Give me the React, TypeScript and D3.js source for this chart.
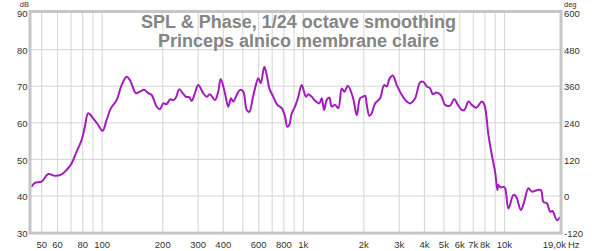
import React from "react";
import * as d3 from "d3";

const freqs = [44.5, 46.3, 49.9, 53.9, 58.2, 62.8, 66.5, 70.4, 74.6, 79.0, 82.0, 85.2, 90.2, 95.5, 100.5, 105.2, 110.5, 117.9, 124.9, 132.2, 137.3, 147.2, 154.0, 161.8, 169.4, 176.1, 186.5, 193.7, 201.2, 209.1, 217.2, 225.5, 232.7, 241.6, 251.2, 260.9, 270.9, 278.5, 289.2, 300.3, 318.0, 330.6, 343.4, 363.6, 377.6, 388.2, 407.7, 423.5, 436.8, 448.5, 466.3, 484.3, 502.9, 522.9, 538.7, 560.2, 575.1, 597.2, 614.0, 639.7, 657.5, 677.4, 709.2, 742.4, 780.8, 811.0, 832.5, 851.8, 875.6, 909.3, 944.2, 981.8, 1031, 1059, 1101, 1157, 1201, 1235, 1268, 1307, 1347, 1385, 1438, 1493, 1553, 1600, 1663, 1761, 1844, 1915, 1975, 2028, 2068, 2130, 2189, 2274, 2408, 2521, 2600, 2679, 2785, 2916, 3089, 3270, 3396, 3596, 3808, 3955, 4111, 4269, 4404, 4574, 4827, 5070, 5370, 5621, 5838, 6140, 6324, 6621, 6883, 7231, 7720, 7953, 8325, 8655, 8988, 9229, 9335, 9596, 9885, 10080, 10470, 11090, 11430, 12070, 12530, 13160, 13690, 14500, 15180, 15630, 16250, 16880, 17330, 18230, 18930];

const spl = [42.5, 43.6, 43.9, 46.0, 45.5, 45.9, 47.1, 48.9, 52.1, 55.3, 58.9, 62.6, 61.2, 59.4, 57.8, 60.8, 64.0, 66.2, 70.3, 72.6, 71.7, 68.1, 68.5, 69.0, 68.1, 67.6, 64.4, 63.7, 65.3, 65.1, 66.4, 66.2, 66.9, 69.2, 68.1, 67.1, 67.0, 66.0, 68.1, 70.3, 68.1, 67.1, 67.8, 66.2, 68.5, 72.0, 68.1, 64.4, 66.7, 65.8, 67.6, 69.0, 68.5, 63.5, 63.0, 66.7, 69.4, 72.2, 70.8, 75.3, 73.1, 69.4, 67.1, 64.9, 64.0, 61.7, 58.9, 59.4, 62.6, 64.4, 67.1, 70.3, 67.1, 67.8, 67.1, 65.8, 65.3, 66.7, 63.5, 66.2, 66.9, 64.4, 64.9, 64.0, 69.4, 68.5, 70.1, 67.1, 62.1, 66.7, 67.1, 67.4, 64.9, 61.9, 62.6, 65.3, 66.7, 70.3, 69.9, 72.0, 72.9, 70.3, 67.6, 65.8, 65.3, 66.7, 71.1, 71.2, 69.9, 69.4, 67.8, 68.3, 67.6, 64.9, 64.7, 66.5, 65.1, 63.5, 63.5, 65.8, 64.9, 64.1, 65.8, 64.9, 56.7, 51.2, 46.6, 41.6, 43.0, 42.3, 42.5, 42.1, 36.6, 40.3, 39.8, 36.2, 38.4, 42.1, 41.2, 41.6, 41.6, 38.4, 38.0, 35.7, 35.9, 33.4, 34.3];

const gridFreqs = [50, 60, 70, 80, 90, 100, 200, 300, 400, 500, 600, 700, 800, 900, 1000, 2000, 3000, 4000, 5000, 6000, 7000, 8000, 9000, 10000];
const xTickValues = [50, 60, 80, 100, 200, 300, 400, 600, 800, 1000, 2000, 3000, 4000, 5000, 6000, 7000, 8000, 10000];
const xTickLabels = ["50", "60", "80", "100", "200", "300", "400", "600", "800", "1k", "2k", "3k", "4k", "5k", "6k", "7k", "8k", "10k"];
const dbTicks = [30, 40, 50, 60, 70, 80, 90];
const degTicks = [-120, 0, 120, 240, 360, 480, 600];
const titleLines = ["SPL & Phase, 1/24 octave smoothing", "Princeps alnico membrane claire"];

const W = 600, H = 251;
const L = 30.5, R = 560.5, T = 13, B = 232.6;
const font = "Arial, 'Liberation Sans', sans-serif";

export default function App() {
  const x = d3.scaleLog().domain([44, 19000]).range([L, R]);
  const y = d3.scaleLinear().domain([30, 90]).range([B, T]);
  const yr = d3.scaleLinear().domain([-120, 600]).range([B, T]);
  const pts = freqs.map((f, i) => [f, spl[i]] as [number, number]);
  const line = d3.line<[number, number]>().x(d => x(d[0])).y(d => y(d[1])).curve(d3.curveCatmullRom.alpha(0.5));
  return (
    <div style={{ position: "absolute", left: 0, top: 0 }}>
      <svg width={W} height={H} style={{ display: "block", background: "#fff" }} fontFamily={font}>
        <rect x={0} y={0} width={W} height={H} fill="#fff" />
        {gridFreqs.map(f => (
          <line key={"gx" + f} x1={x(f)} x2={x(f)} y1={T} y2={B} stroke="#d4d4d4" strokeWidth={1} />
        ))}
        {dbTicks.slice(1, -1).map(v => (
          <line key={"gy" + v} x1={L} x2={R} y1={y(v)} y2={y(v)} stroke="#d4d4d4" strokeWidth={1} />
        ))}
        {titleLines.map((t, i) => (
          <text key={t} x={298.5} y={28 + i * 18.5} textAnchor="middle" fontSize={18} fontWeight="bold" fill="#858585">{t}</text>
        ))}
        <path d={line(pts) || ""} fill="none" stroke="#a21cbc" strokeWidth={2} strokeLinejoin="round" />
        <rect x={L - 0.5} y={T - 1.5} width={R - L + 1} height={B - T + 2} fill="none" stroke="#c6c6c6" strokeWidth={3} />
        {dbTicks.map(v => (
          <text key={"dl" + v} x={27.5} y={y(v) + 4.2} textAnchor="end" fontSize={9.5} fill="#333">{v}</text>
        ))}
        <text x={29} y={7} textAnchor="end" fontSize={7.5} fill="#333">dB</text>
        {degTicks.map(v => (
          <text key={"rl" + v} x={564} y={yr(v) + 4.2} textAnchor="start" fontSize={9.5} fill="#333">{v}</text>
        ))}
        <text x={564} y={7} textAnchor="start" fontSize={7.5} fill="#333">deg</text>
        {xTickValues.map((v, i) => (
          <text key={"xl" + v} x={x(v)} y={247.5} textAnchor="middle" fontSize={9.5} fill="#333">{xTickLabels[i]}</text>
        ))}
        <text x={566} y={247.5} textAnchor="end" fontSize={9.5} fill="#333">19,0k</text>
        <text x={568} y={247.5} textAnchor="start" fontSize={9.5} fill="#333">Hz</text>
      </svg>
    </div>
  );
}
